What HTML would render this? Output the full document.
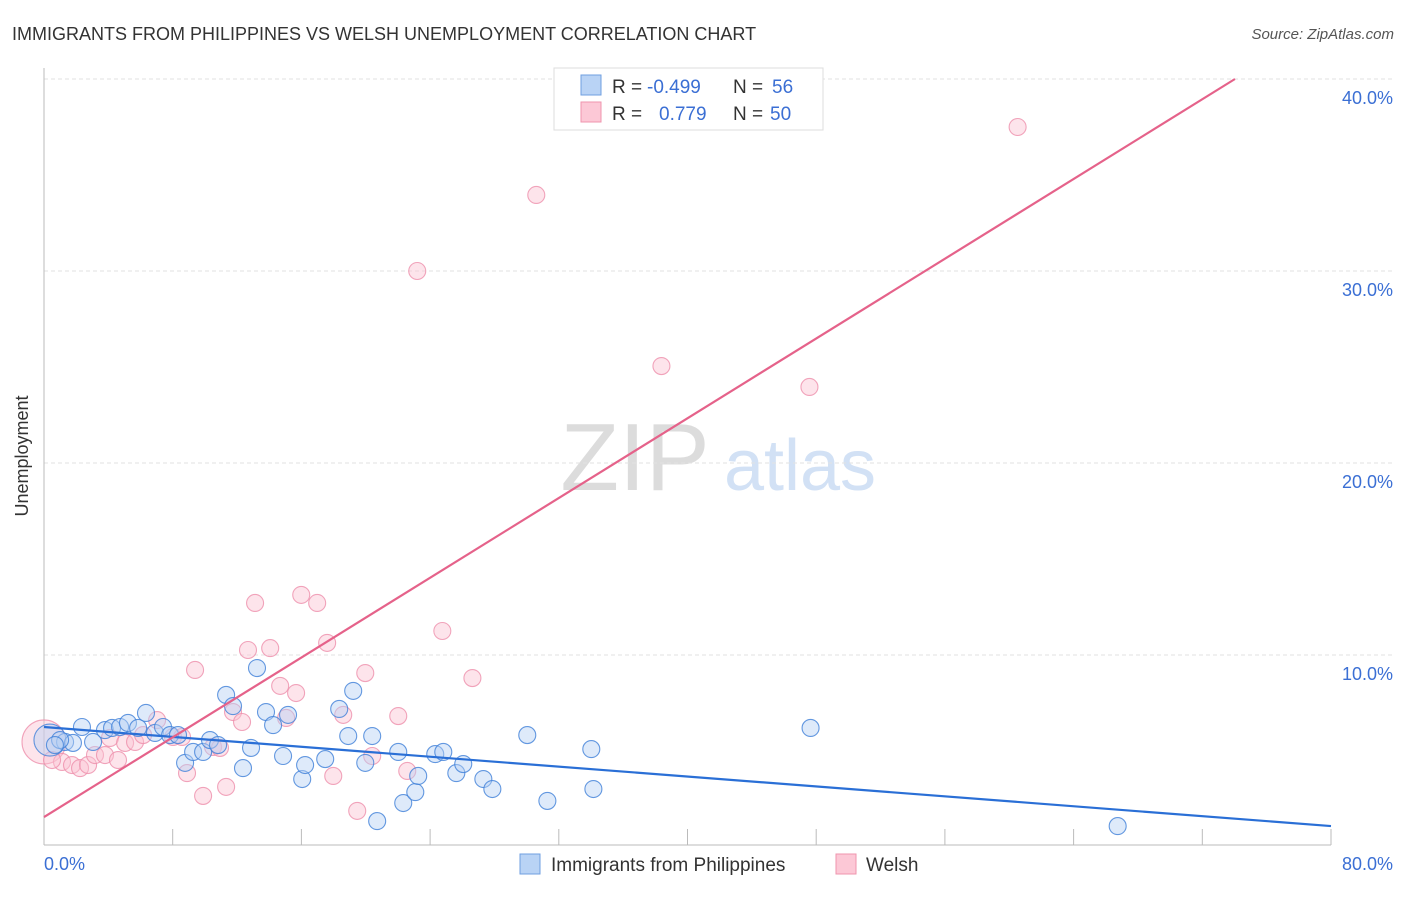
<!DOCTYPE html>
<html><head><meta charset="utf-8"><style>
body{margin:0;background:#fff;font-family:"Liberation Sans",sans-serif;}
svg text{font-family:"Liberation Sans",sans-serif;}
</style></head><body>
<svg id="chart" width="1406" height="892" viewBox="0 0 1406 892">
<text x="12" y="40" font-size="18" fill="#333">IMMIGRANTS FROM PHILIPPINES VS WELSH UNEMPLOYMENT CORRELATION CHART</text>
<text x="1394" y="39" font-size="15" fill="#555" font-style="italic" text-anchor="end">Source: ZipAtlas.com</text>
<g>
<text x="635" y="490" font-size="96" font-family="Liberation Serif,serif" fill="#dcdcdc" text-anchor="middle">ZIP</text>
<text x="800" y="490" font-size="72" fill="#d2e1f5" text-anchor="middle">atlas</text>
</g>
<g id="grid"></g>
<line x1="44" y1="68" x2="44" y2="845" stroke="#bbb"/>
<line x1="44" y1="845" x2="1331" y2="845" stroke="#bbb"/>
<g id="ticks"></g>
<text x="28" y="456" font-size="18" fill="#333" text-anchor="middle" transform="rotate(-90 28 456)">Unemployment</text>
<text x="44" y="870" font-size="18" fill="#3b6fd4">0.0%</text>
<text x="1393" y="870" font-size="18" fill="#3b6fd4" text-anchor="end">80.0%</text>
<g id="points"></g>
<g id="lines"></g>
<g>
<rect x="554" y="68" width="269" height="62" fill="#fff" stroke="#ddd"/>
<rect x="581" y="75" width="20" height="20" fill="#b9d3f5" stroke="#6f9fe0"/>
<rect x="581" y="102" width="20" height="20" fill="#fcc8d6" stroke="#ef95ae"/>
<text x="612" y="93" font-size="19" fill="#333">R =</text>
<text x="647" y="93" font-size="19" fill="#3b6fd4">-0.499</text>
<text x="733" y="93" font-size="19" fill="#333">N =</text>
<text x="772" y="93" font-size="19" fill="#3b6fd4">56</text>
<text x="612" y="120" font-size="19" fill="#333">R =</text>
<text x="659" y="120" font-size="19" fill="#3b6fd4">0.779</text>
<text x="733" y="120" font-size="19" fill="#333">N =</text>
<text x="770" y="120" font-size="19" fill="#3b6fd4">50</text>
</g>
<g>
<rect x="520" y="854" width="20" height="20" fill="#b9d3f5" stroke="#6f9fe0"/>
<text x="551" y="871" font-size="19" fill="#333">Immigrants from Philippines</text>
<rect x="836" y="854" width="20" height="20" fill="#fcc8d6" stroke="#ef95ae"/>
<text x="866" y="871" font-size="19" fill="#333">Welsh</text>
</g>
</svg>
<script>
const yTicks=[10,20,30,40];
const yTickLabels=["10.0%","20.0%","30.0%","40.0%"];
const xTicks=[8,16,24,32,40,48,56,64,72,80];
const blueX=[0.37,1.31,1.80,2.36,3.05,3.79,4.23,4.73,5.22,5.85,6.34,6.90,7.40,7.84,8.33,8.77,9.27,9.89,10.32,10.82,11.32,11.75,12.37,12.87,13.24,13.80,14.24,14.86,15.17,16.05,16.23,17.48,18.35,18.91,19.22,19.97,20.40,20.71,22.02,22.33,23.08,23.26,24.32,24.82,25.63,26.06,27.31,27.87,30.04,31.29,34.02,34.15,47.65,66.74,1.0,0.68];
const blueY=[5.57,5.47,5.42,6.25,5.47,6.09,6.20,6.25,6.46,6.20,6.98,5.94,6.25,5.83,5.83,4.38,4.95,4.95,5.57,5.31,7.92,7.34,4.11,5.16,9.32,7.03,6.35,4.74,6.88,3.54,4.27,4.58,7.19,5.78,8.13,4.38,5.78,1.35,4.95,2.29,2.86,3.70,4.84,4.95,3.85,4.32,3.54,3.02,5.83,2.40,5.10,3.02,6.20,1.09,5.57,5.31];
const pinkX=[0,1.12,1.74,2.24,2.74,3.17,3.79,4.60,4.10,5.04,5.66,6.16,7.03,8.02,8.58,8.89,9.39,9.89,10.51,10.94,11.32,11.75,12.31,12.68,13.12,14.06,14.68,15.05,15.67,15.99,16.98,17.60,17.98,18.60,19.47,19.97,20.40,22.02,22.58,24.76,26.63,23.20,30.60,38.38,47.58,60.52,0.5];
const pinkY=[5.47,4.43,4.27,4.11,4.27,4.79,4.79,4.53,5.68,5.42,5.47,5.83,6.61,5.73,5.73,3.85,9.22,2.66,5.21,5.16,3.13,7.03,6.51,10.26,12.71,10.36,8.39,6.72,8.02,13.13,12.71,10.63,3.70,6.88,1.88,9.06,4.74,6.82,3.96,11.25,8.80,30.0,33.96,25.05,23.96,37.5,4.53];
const blueTrend=[6.25,1.09];
const pinkTrend=[1.56,43.1];
const X=v=>44+v/80*1287, Y=v=>847-v*19.2;
const NS="http://www.w3.org/2000/svg";
function mk(t,a,p){const e=document.createElementNS(NS,t);for(const k in a)e.setAttribute(k,a[k]);document.getElementById(p).appendChild(e);return e;}
yTicks.forEach((v,i)=>{
 const l=mk('line',{x1:44,x2:1393,y1:Y(v),y2:Y(v),stroke:'#e2e2e2','stroke-dasharray':'4,3'},'grid');
 
 
 const t=mk('text',{x:1393,y:Y(v)+25,'font-size':18,fill:'#3b6fd4','text-anchor':'end'},'grid');
 t.textContent=yTickLabels[i];
 
 
});
xTicks.forEach(v=>{
 const l=mk('line',{x1:X(v),x2:X(v),y1:829,y2:845,stroke:'#bbb'},'ticks');
 
 
});
function dots(xs,ys,fill,stroke,name){
 xs.forEach((x,i)=>{
  const big=(i===0);
  const c=mk('circle',{cx:X(x),cy:Y(ys[i]),r:big?(name==='welsh-point'?22:16):8.5,fill:fill,'fill-opacity':0.45,stroke:stroke,'stroke-opacity':0.8,'stroke-width':1.1},'points');
  
  
 });
}
dots(pinkX,pinkY,'#fbc3d3','#ee8fab','welsh-point');
dots(blueX,blueY,'#b5d0f3','#3f7fd8','philippines-point');
const bl=mk('line',{x1:X(0),y1:Y(blueTrend[0]),x2:X(80),y2:Y(blueTrend[1]),stroke:'#2a6fd6','stroke-width':2.2},'lines');


const s=(pinkTrend[1]-pinkTrend[0])/80, xe=(40-pinkTrend[0])/s;
const pl=mk('line',{x1:X(0),y1:Y(pinkTrend[0]),x2:X(xe),y2:Y(40),stroke:'#e5628a','stroke-width':2.2},'lines');


</script>
</body></html>
